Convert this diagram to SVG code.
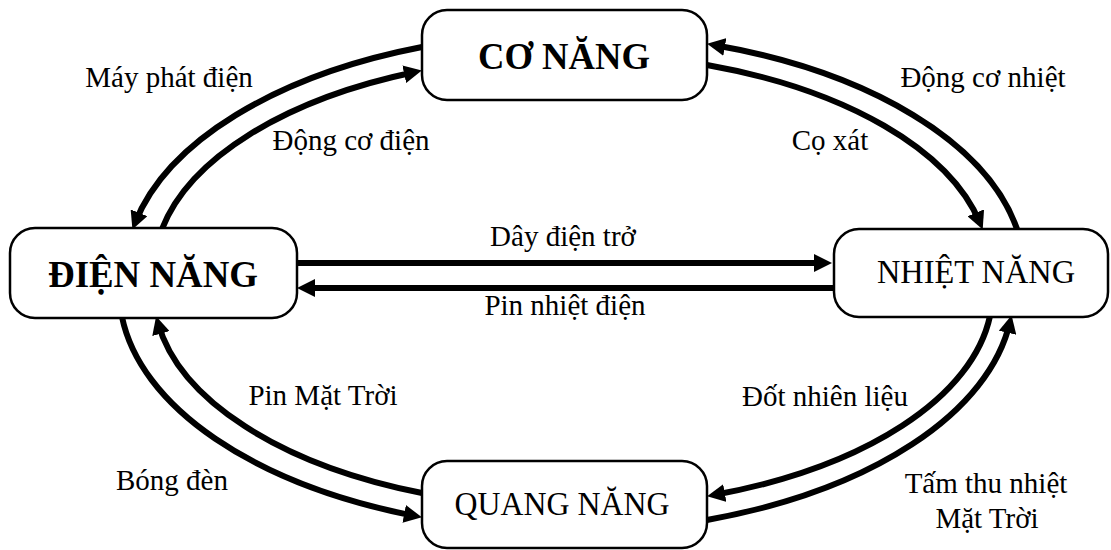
<svg xmlns="http://www.w3.org/2000/svg" width="1111" height="550" viewBox="0 0 1111 550">
  <style>
    .box { fill: #ffffff; stroke: #000000; stroke-width: 2.5; }
    .title { font-family: "Liberation Serif", "Times New Roman", serif; fill: #000000; text-anchor: middle; }
    .bold { font-weight: bold; font-size: 38px; }
    .reg { font-size: 33px; }
    .lbl { font-family: "Liberation Serif", "Times New Roman", serif; font-size: 29px; fill: #000000; text-anchor: middle; }
    .flow { fill: none; stroke: #000000; stroke-width: 6; marker-end: url(#head); }
  </style>
  <defs>
    <marker id="head" viewBox="0 0 18 18" markerWidth="18" markerHeight="18" refX="11" refY="9" orient="auto" markerUnits="userSpaceOnUse">
      <path d="M0,0 L18,9 L0,18 z" fill="#000000"/>
    </marker>
  </defs>

  <rect width="1111" height="550" fill="#ffffff"/>

  <!-- energy conversions -->
  <g id="connectors">
    <!-- mechanical <-> electrical -->
    <path class="flow" d="M422,47 A450,240 0 0 0 135,223"/>
    <path class="flow" d="M162,229 A420,215 0 0 1 415,72"/>
    <!-- mechanical <-> thermal -->
    <path class="flow" d="M1017,229 A450,240 0 0 0 714,45"/>
    <path class="flow" d="M707,65 A420,215 0 0 1 980,223"/>
    <!-- electrical <-> light -->
    <path class="flow" d="M122,317 A450,240 0 0 0 415,516"/>
    <path class="flow" d="M422,493 A420,215 0 0 1 158,323"/>
    <!-- thermal <-> light -->
    <path class="flow" d="M990,316 A420,215 0 0 1 714,495"/>
    <path class="flow" d="M707,520 A450,240 0 0 0 1010,322"/>
    <!-- electrical <-> thermal -->
    <path class="flow" d="M297,263 L825,263"/>
    <path class="flow" d="M834,288 L304,288"/>

    <text class="lbl" x="169" y="87">Máy phát điện</text>
    <text class="lbl" x="351" y="150">Động cơ điện</text>
    <text class="lbl" x="983" y="87">Động cơ nhiệt</text>
    <text class="lbl" x="830" y="150">Cọ xát</text>
    <text class="lbl" x="563" y="246">Dây điện trở</text>
    <text class="lbl" x="565" y="315">Pin nhiệt điện</text>
    <text class="lbl" x="323" y="405">Pin Mặt Trời</text>
    <text class="lbl" x="172" y="490">Bóng đèn</text>
    <text class="lbl" x="825" y="406">Đốt nhiên liệu</text>
    <text class="lbl" x="986" y="493">Tấm thu nhiệt</text>
    <text class="lbl" x="987" y="528">Mặt Trời</text>
  </g>

  <g id="co-nang">
    <rect class="box" x="422" y="10" width="285" height="90" rx="25"/>
    <text class="title bold" x="564" y="69" textLength="172" lengthAdjust="spacingAndGlyphs">CƠ NĂNG</text>
  </g>
  <g id="dien-nang">
    <rect class="box" x="10" y="228" width="287" height="90" rx="25"/>
    <text class="title bold" x="153" y="287" textLength="210" lengthAdjust="spacingAndGlyphs">ĐIỆN NĂNG</text>
  </g>
  <g id="nhiet-nang">
    <rect class="box" x="834" y="229" width="274" height="88" rx="25"/>
    <text class="title reg" x="976" y="283" textLength="198" lengthAdjust="spacingAndGlyphs">NHIỆT NĂNG</text>
  </g>
  <g id="quang-nang">
    <rect class="box" x="422" y="461" width="285" height="87" rx="25"/>
    <text class="title reg" x="562" y="515" textLength="215" lengthAdjust="spacingAndGlyphs">QUANG NĂNG</text>
  </g>
</svg>
